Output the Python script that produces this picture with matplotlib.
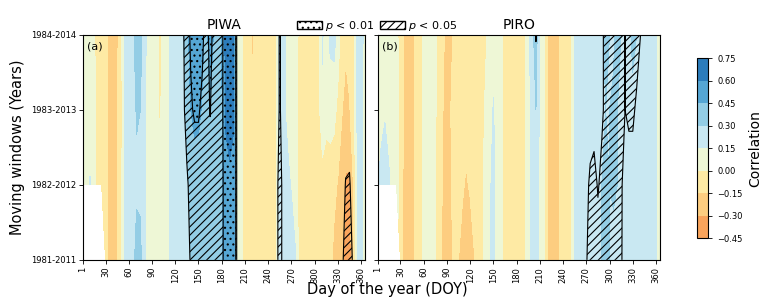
import numpy as np
import matplotlib
matplotlib.use("Agg")
import matplotlib.pyplot as plt
import matplotlib.patches as mpatches

plt.rcParams['hatch.linewidth'] = 0.8

# nodes every 5 days (index i -> DOY 5*i)
doy = np.arange(0, 366, 5)
windows = ["1981-2011", "1982-2012", "1983-2013", "1984-2014"]
xticks = [1, 30, 60, 90, 120, 150, 180, 210, 240, 270, 300, 330, 360]
levels = [-0.45, -0.30, -0.15, 0.0, 0.15, 0.30, 0.45, 0.60, 0.75]
nan = np.nan

# PIWA correlation per moving window
piwa_1981 = [nan, nan, nan, nan, nan, nan, -0.10, -0.20, -0.26, -0.17,
             -0.05, 0.15, 0.22, 0.26, 0.34, 0.34, 0.18, 0.08, 0.06, 0.05,
             0.05, 0.06, 0.10, 0.20, 0.22, 0.23, 0.24, 0.25, 0.30, 0.38,
             0.40, 0.40, 0.40, 0.40, 0.40, 0.40, 0.42, 0.52, 0.56, 0.55,
             0.10, 0.03, -0.08, -0.10, -0.16, -0.10, -0.09, -0.08, -0.08, -0.06,
             -0.03, 0.20, 0.22, 0.20, 0.22, 0.16, -0.05, -0.10, -0.12, -0.12,
             -0.10, -0.12, -0.10, -0.08, -0.12, -0.18, -0.20, -0.25, -0.36, -0.38,
             -0.20, 0.16, 0.17, 0.10]
piwa_1982 = [0.10, 0.12, 0.16, 0.05, -0.05, -0.07, -0.10, -0.20, -0.24, -0.16,
             -0.05, 0.16, 0.22, 0.24, 0.28, 0.27, 0.17, 0.08, 0.06, 0.05,
             0.04, 0.05, 0.10, 0.19, 0.22, 0.23, 0.25, 0.27, 0.36, 0.40,
             0.41, 0.40, 0.40, 0.41, 0.40, 0.40, 0.42, 0.55, 0.58, 0.56,
             0.10, 0.03, -0.08, -0.10, -0.13, -0.10, -0.09, -0.08, -0.08, -0.06,
             -0.03, 0.20, 0.20, 0.18, 0.14, 0.10, -0.06, -0.10, -0.10, -0.09,
             -0.08, -0.08, -0.07, -0.05, -0.10, -0.12, -0.16, -0.22, -0.32, -0.33,
             -0.15, 0.16, 0.17, 0.10]
piwa_1983 = [0.08, 0.10, 0.07, 0.03, -0.05, -0.08, -0.10, -0.19, -0.25, -0.17,
             -0.06, 0.16, 0.22, 0.24, 0.31, 0.30, 0.18, 0.09, 0.07, 0.05,
             -0.02, 0.05, 0.10, 0.19, 0.22, 0.24, 0.27, 0.33, 0.45, 0.48,
             0.47, 0.44, 0.40, 0.45, 0.42, 0.41, 0.43, 0.62, 0.64, 0.62,
             0.10, 0.03, -0.07, -0.10, -0.14, -0.10, -0.09, -0.08, -0.07, -0.05,
             -0.02, 0.20, 0.17, 0.12, 0.10, 0.08, -0.06, -0.09, -0.10, -0.08,
             -0.06, -0.05, 0.12, 0.03, 0.08, 0.06, -0.05, -0.14, -0.20, -0.16,
             -0.08, 0.17, 0.18, 0.10]
piwa_1984 = [0.08, 0.08, 0.06, 0.02, -0.06, -0.08, -0.10, -0.20, -0.26, -0.18,
             -0.05, 0.17, 0.24, 0.27, 0.35, 0.36, 0.20, 0.10, 0.07, 0.06,
             -0.04, 0.04, 0.10, 0.20, 0.24, 0.25, 0.28, 0.40, 0.52, 0.55,
             0.52, 0.47, 0.42, 0.50, 0.44, 0.42, 0.45, 0.63, 0.66, 0.64,
             0.10, 0.03, -0.06, -0.10, -0.17, -0.10, -0.08, -0.08, -0.07, -0.06,
             -0.03, 0.20, 0.18, 0.10, 0.08, 0.12, -0.05, -0.08, -0.10, -0.08,
             -0.06, -0.04, 0.17, 0.05, 0.18, 0.20, 0.10, -0.08, -0.12, -0.10,
             -0.05, 0.18, 0.20, 0.10]

# PIRO correlation per moving window
piro_1981 = [nan, nan, nan, nan, nan, nan, -0.06, -0.20, -0.24, -0.22,
             -0.12, -0.06, 0.03, 0.05, 0.04, 0.00, -0.12, -0.18, -0.20, -0.17,
             -0.12, -0.15, -0.18, -0.22, -0.20, -0.16, -0.08, -0.05, 0.05, 0.12,
             0.20, 0.08, 0.04, -0.06, -0.08, -0.10, -0.10, -0.09, -0.05, 0.10,
             0.20, 0.22, 0.10, 0.02, -0.16, -0.22, -0.20, -0.16, -0.10, -0.06,
             -0.02, 0.17, 0.20, 0.24, 0.27, 0.30, 0.28, 0.26, 0.30, 0.33,
             0.30, 0.28, 0.30, 0.25, 0.22, 0.25, 0.28, 0.26, 0.24, 0.22,
             0.20, 0.17, 0.15, 0.14]
piro_1982 = [0.14, 0.18, 0.20, 0.17, 0.10, 0.05, -0.06, -0.20, -0.22, -0.20,
             -0.12, -0.06, 0.03, 0.05, 0.04, 0.01, -0.10, -0.16, -0.18, -0.16,
             -0.12, -0.12, -0.14, -0.16, -0.14, -0.10, -0.06, -0.04, 0.05, 0.12,
             0.20, 0.08, 0.04, -0.05, -0.08, -0.10, -0.10, -0.08, -0.05, 0.10,
             0.20, 0.22, 0.12, 0.03, -0.16, -0.22, -0.22, -0.16, -0.10, -0.07,
             -0.02, 0.17, 0.20, 0.24, 0.26, 0.30, 0.28, 0.25, 0.30, 0.32,
             0.30, 0.31, 0.30, 0.28, 0.26, 0.28, 0.30, 0.27, 0.25, 0.23,
             0.20, 0.17, 0.15, 0.14]
piro_1983 = [0.10, 0.12, 0.14, 0.10, 0.07, 0.04, -0.05, -0.18, -0.24, -0.22,
             -0.12, -0.06, 0.04, 0.06, 0.05, 0.02, -0.08, -0.15, -0.17, -0.15,
             -0.12, -0.08, -0.10, -0.12, -0.10, -0.08, -0.05, -0.04, 0.02, 0.08,
             0.16, 0.06, 0.04, -0.06, -0.08, -0.10, -0.09, -0.08, -0.05, 0.08,
             0.22, 0.30, 0.12, 0.03, -0.17, -0.24, -0.22, -0.15, -0.08, -0.06,
             -0.02, 0.18, 0.20, 0.22, 0.20, 0.24, 0.27, 0.28, 0.28, 0.30,
             0.30, 0.32, 0.30, 0.28, 0.26, 0.30, 0.28, 0.26, 0.24, 0.22,
             0.20, 0.17, 0.15, 0.14]
piro_1984 = [0.08, 0.08, 0.10, 0.07, 0.06, 0.03, -0.05, -0.18, -0.25, -0.24,
             -0.12, -0.06, 0.04, 0.06, 0.05, 0.03, -0.08, -0.14, -0.17, -0.16,
             -0.14, -0.08, -0.08, -0.10, -0.12, -0.10, -0.07, -0.05, -0.02, 0.05,
             0.10, 0.06, 0.04, -0.06, -0.08, -0.10, -0.09, -0.08, -0.05, 0.08,
             0.25, 0.38, 0.12, 0.04, -0.18, -0.25, -0.22, -0.15, -0.08, -0.06,
             -0.02, 0.18, 0.20, 0.22, 0.20, 0.22, 0.25, 0.27, 0.28, 0.32,
             0.30, 0.28, 0.33, 0.30, 0.25, 0.28, 0.32, 0.30, 0.25, 0.22,
             0.20, 0.18, 0.15, 0.14]

# significance class (>=0.5: p<0.05, >=1.5: p<0.01)
z10 = [0] * 10
sig_piwa_1981 = (z10 + z10
                 + [0, 0, 0, 0, 0, 0, 0, 0.1, 0.6, 1.0]
                 + [1.0, 1.0, 1.0, 1.0, 1.0, 1.0, 1.2, 2, 2.5, 4]
                 + z10
                 + [0, 1.0, 0, 0, 0, 0, 0, 0, 0, 0]
                 + [0, 0, 0, 0, 0, 0, 0, 0.2, 1.0, 1.0]
                 + [0.3, 0, 0, 0])
sig_piwa_1982 = (z10 + z10
                 + [0, 0, 0, 0, 0, 0, 0, 0.3, 0.9, 1.0]
                 + [1.0, 1.0, 1.0, 1.0, 1.0, 1.0, 1.2, 2, 2.5, 4]
                 + z10
                 + [0, 1.0, 0, 0, 0, 0, 0, 0, 0, 0]
                 + [0, 0, 0, 0, 0, 0, 0, 0, 0.55, 0.6]
                 + [0, 0, 0, 0])
sig_piwa_1983 = (z10 + z10
                 + [0, 0, 0, 0, 0, 0, 0.2, 1.0, 1.4, 1.6]
                 + [1.6, 1.3, 1.1, 1.55, 1.1, 1.0, 1.3, 2, 2.5, 4]
                 + z10
                 + [0, 0.6, 0, 0, 0, 0, 0, 0, 0, 0]
                 + z10
                 + [0, 0, 0, 0])
sig_piwa_1984 = (z10 + z10
                 + [0, 0, 0, 0, 0, 0, 0.3, 1.2, 1.6, 2.0]
                 + [2.0, 1.7, 1.1, 1.8, 1.2, 1.0, 1.3, 2, 2.5, 4]
                 + z10
                 + [0, 0.6, 0, 0, 0, 0, 0, 0, 0, 0]
                 + z10
                 + [0, 0, 0, 0])

sig_piro_1981 = (z10 * 5
                 + [0, 0, 0, 0, 0.4, 1.0, 1.0, 1.0, 0.9, 1.0]
                 + [1.0, 1.0, 1.0, 0.6, 0.1, 0, 0, 0, 0, 0]
                 + [0, 0, 0, 0])
sig_piro_1982 = (z10 * 5
                 + [0, 0, 0, 0, 0.2, 0.7, 0.9, 0.4, 0.8, 1.0]
                 + [1.0, 1.0, 1.0, 0.6, 0.2, 0, 0, 0, 0, 0]
                 + [0, 0, 0, 0])
sig_piro_1983 = (z10 * 5
                 + [0, 0, 0, 0, 0, 0, 0, 0, 0.3, 0.8]
                 + [1.0, 1.0, 1.0, 0.8, 0.5, 0.7, 0.7, 0.3, 0, 0]
                 + [0, 0, 0, 0])
sig_piro_1984 = (z10 * 4
                 + [0, 0.55, 0, 0, 0, 0, 0, 0, 0, 0]
                 + [0, 0, 0, 0, 0, 0, 0, 0, 0.3, 0.8]
                 + [1.0, 1.0, 1.0, 0.9, 0.45, 0.9, 1.0, 1.0, 0.5, 0.1]
                 + [0, 0, 0, 0])

corr_piwa = np.array([piwa_1981, piwa_1982, piwa_1983, piwa_1984])
corr_piro = np.array([piro_1981, piro_1982, piro_1983, piro_1984])
sig_piwa = np.array([sig_piwa_1981, sig_piwa_1982, sig_piwa_1983, sig_piwa_1984])
sig_piro = np.array([sig_piro_1981, sig_piro_1982, sig_piro_1983, sig_piro_1984])

colors = ['#f9a45c', '#fdcd80', '#feeaa4', '#eef7d6',
          '#c9e8f2', '#93cde5', '#55a6d4', '#2c7cbb']

yy = np.arange(len(windows))

fig = plt.figure(figsize=(7.62, 2.98), dpi=100)
ax1 = fig.add_axes([0.109, 0.128, 0.370, 0.755])
ax2 = fig.add_axes([0.496, 0.128, 0.370, 0.755])
cax = fig.add_axes([0.915, 0.201, 0.0144, 0.604])

panels = [(ax1, corr_piwa, sig_piwa, 'PIWA', '(a)'),
          (ax2, corr_piro, sig_piro, 'PIRO', '(b)')]
for ax, corr, sig, name, tag in panels:
    cf = ax.contourf(doy, yy, corr, levels=levels, colors=colors)
    ax.contourf(doy, yy, sig, levels=[0.5, 1.5, 10], colors='none',
                hatches=['////', '...'])
    ax.contour(doy, yy, sig, levels=[0.5, 1.5], colors='k', linewidths=0.8)
    ax.set_xlim(1, 365)
    ax.set_ylim(0, 3)
    ax.set_xticks(xticks)
    ax.set_xticklabels([str(t) for t in xticks], rotation=90, fontsize=6)
    ax.set_yticks(yy)
    ax.set_title(name, fontsize=10, pad=4)
    ax.text(0.015, 0.97, tag, transform=ax.transAxes, fontsize=8,
            ha='left', va='top')
    ax.tick_params(length=3, width=0.6, pad=2)

ax1.set_yticklabels(windows, fontsize=6)
ax2.set_yticklabels([])
ax1.set_ylabel('Moving windows (Years)', fontsize=10.5)

fig.text(0.508, 0.003, 'Day of the year (DOY)', ha='center', va='bottom',
         fontsize=10.5)

cb = fig.colorbar(cf, cax=cax, ticks=levels)
cb.ax.tick_params(labelsize=6, length=3, width=0.6)
cb.set_label('Correlation', fontsize=10)

h01 = mpatches.Patch(facecolor='white', edgecolor='k', hatch='...',
                     label=r'$p$ < 0.01')
h05 = mpatches.Patch(facecolor='white', edgecolor='k', hatch='////',
                     label=r'$p$ < 0.05')
fig.legend(handles=[h01], loc='center left', bbox_to_anchor=(0.39, 0.912),
           frameon=False, fontsize=8, handlelength=2.2, handletextpad=0.3,
           borderpad=0, borderaxespad=0)
fig.legend(handles=[h05], loc='center left', bbox_to_anchor=(0.499, 0.912),
           frameon=False, fontsize=8, handlelength=2.2, handletextpad=0.3,
           borderpad=0, borderaxespad=0)

fig.savefig('out.png', dpi=100)
